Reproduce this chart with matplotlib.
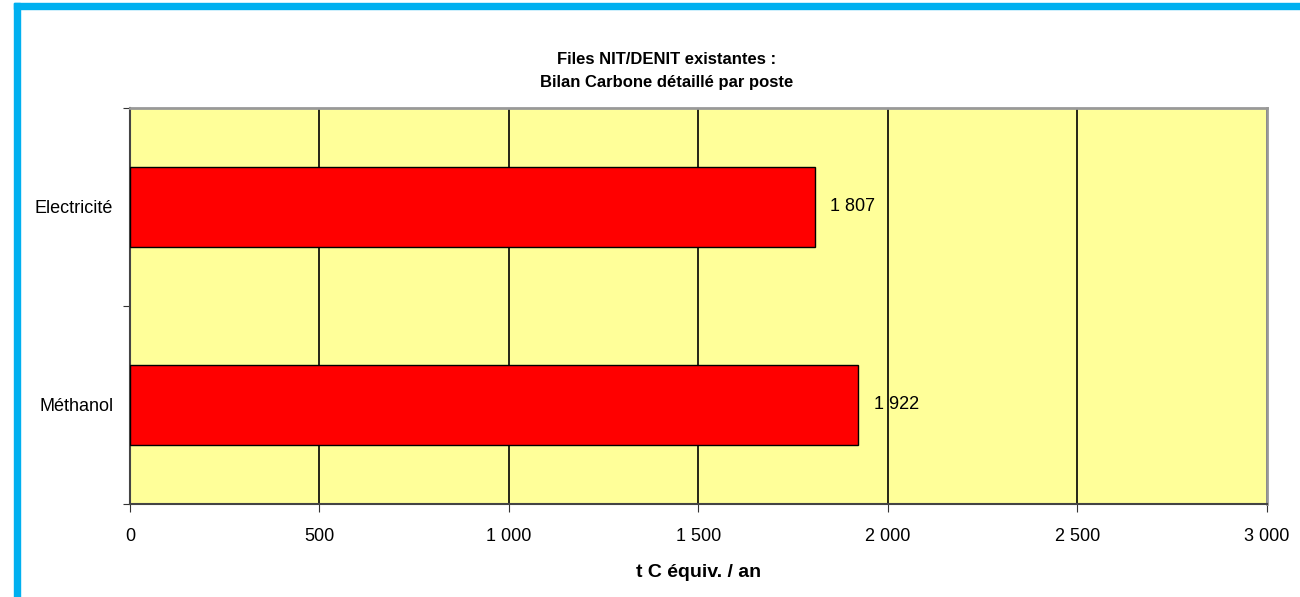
import matplotlib.pyplot as plt
from matplotlib.patches import Rectangle

plt.rcParams['font.family'] = ['Liberation Sans', 'DejaVu Sans']

postes = ['Electricité', 'Méthanol']
valeurs = [1807, 1922]
xticks = [0, 500, 1000, 1500, 2000, 2500, 3000]


def fmt(v):
    # thousands separated by a space, French style
    return '{:,}'.format(v).replace(',', ' ')


fig = plt.figure(figsize=(13, 5.97), dpi=100)
ax = fig.add_axes([0.1, 0.1558, 0.8746, 0.6633])

ax.set_facecolor('#FFFF99')
ax.barh(range(len(postes)), valeurs, height=0.4, color='red',
        edgecolor='black', linewidth=1, zorder=3)

for i, v in enumerate(valeurs):
    ax.text(v + 40, i, fmt(v), va='center', ha='left', fontsize=13, zorder=4)

ax.set_xlim(0, 3000)
ax.set_ylim(1.5, -0.5)
ax.set_xticks(xticks)
ax.set_xticklabels([fmt(t) for t in xticks], fontsize=13)
ax.xaxis.grid(True, color='black', linewidth=1.2, zorder=0)
ax.set_axisbelow(True)

# category boundaries carry the tick marks, labels sit in between
ax.set_yticks([-0.5, 0.5, 1.5])
ax.set_yticklabels(['', '', ''])
ax.set_yticks(range(len(postes)), minor=True)
ax.set_yticklabels(postes, minor=True, fontsize=13)
ax.tick_params(axis='y', which='minor', length=0, pad=12)
ax.tick_params(axis='y', which='major', length=5, color='#333333')
ax.tick_params(axis='x', length=6, color='#333333', pad=11)

for s in ['left', 'bottom']:
    ax.spines[s].set_color('#444444')
    ax.spines[s].set_linewidth(1.5)
for s in ['top', 'right']:
    ax.spines[s].set_color('#999999')
    ax.spines[s].set_linewidth(2)

ax.set_xlabel('t C équiv. / an', fontsize=14, fontweight='bold', labelpad=14)
fig.text(0.513, 0.881, 'Files NIT/DENIT existantes :\nBilan Carbone détaillé par poste',
         ha='center', va='center', fontsize=12, fontweight='bold', linespacing=1.6)

# blue frame on the left and top edges
fig.patches.append(Rectangle((14 / 1300, 0), 6 / 1300, 1 - 3 / 597,
                             transform=fig.transFigure, color='#00B0F0'))
fig.patches.append(Rectangle((14 / 1300, 1 - 9 / 597), 1 - 14 / 1300, 6 / 597,
                             transform=fig.transFigure, color='#00B0F0'))

fig.savefig('out.png', dpi=100)
